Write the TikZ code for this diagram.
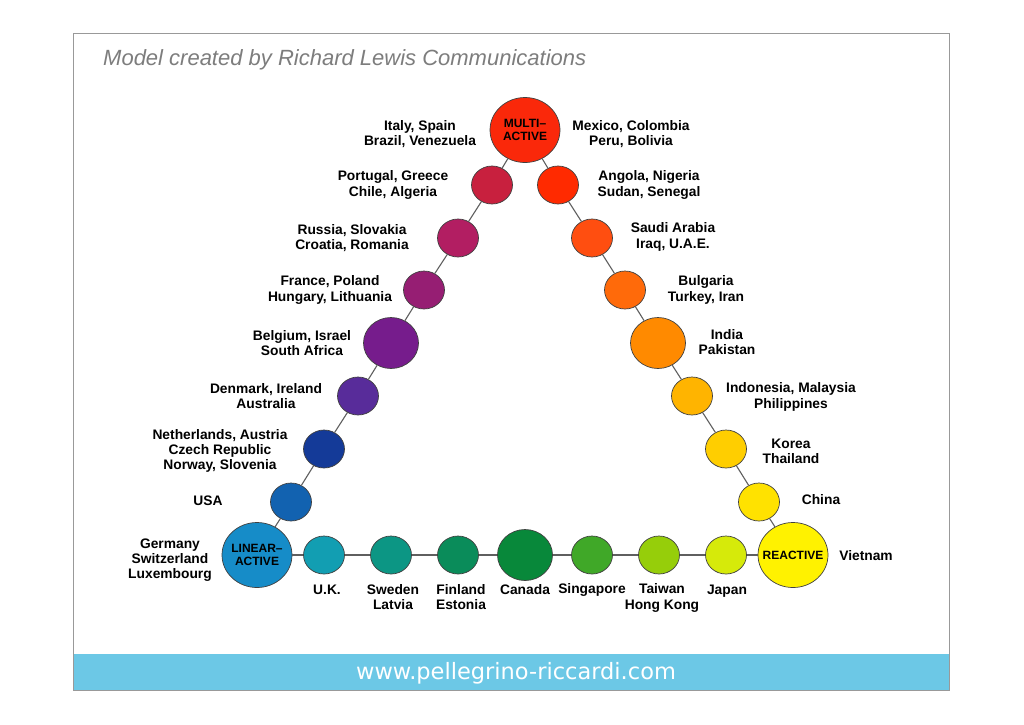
\documentclass[tikz,border=0pt]{standalone}
\usepackage{fontspec}
\setmainfont{Liberation Sans}
\newfontfamily\dejavu{DejaVu Sans}
\usetikzlibrary{shapes.geometric}
\definecolor{bannerblue}{RGB}{108,200,230}
\definecolor{titlegray}{RGB}{125,125,125}
\definecolor{edgegray}{RGB}{95,95,95}
\definecolor{cMA}{RGB}{250,40,10}
\definecolor{cL1}{RGB}{200,32,62}
\definecolor{cL2}{RGB}{178,30,98}
\definecolor{cL3}{RGB}{150,30,115}
\definecolor{cL4}{RGB}{118,28,140}
\definecolor{cL5}{RGB}{88,44,154}
\definecolor{cL6}{RGB}{20,58,152}
\definecolor{cL7}{RGB}{18,98,176}
\definecolor{cLA}{RGB}{22,140,200}
\definecolor{cB1}{RGB}{18,158,178}
\definecolor{cB2}{RGB}{12,150,132}
\definecolor{cB3}{RGB}{10,140,90}
\definecolor{cB4}{RGB}{8,136,58}
\definecolor{cB5}{RGB}{64,168,40}
\definecolor{cB6}{RGB}{150,206,10}
\definecolor{cB7}{RGB}{214,234,10}
\definecolor{cRE}{RGB}{255,242,0}
\definecolor{cR1}{RGB}{255,226,0}
\definecolor{cR2}{RGB}{255,206,0}
\definecolor{cR3}{RGB}{255,180,0}
\definecolor{cR4}{RGB}{255,138,0}
\definecolor{cR5}{RGB}{255,106,10}
\definecolor{cR6}{RGB}{255,78,16}
\definecolor{cR7}{RGB}{255,42,0}
\tikzset{
  ball/.style={ellipse, draw=black!75, line width=0.7pt, inner sep=0pt,
    minimum width=41pt, minimum height=38pt},
  bigball/.style={ball, minimum width=55pt, minimum height=51pt},
  hub/.style={ball, minimum width=70pt, minimum height=65pt},
  hubtext/.style={align=center, inner sep=0pt, font=\bfseries\fontsize{12}{13.5}\selectfont},
  lbl/.style={align=center, inner sep=0pt, font=\bfseries\fontsize{13.8}{15.2}\selectfont},
  link/.style={draw=edgegray, line width=1.1pt}
}
\begin{document}
\begin{tikzpicture}[x=1pt,y=-1pt]
\useasboundingbox[fill=white] (0,0) rectangle (1024,724);
\fill[bannerblue] (73,654) rectangle (949,690);
\draw[gray!80, line width=0.7pt] (73,33) rectangle (949,690);
\node[anchor=west, inner sep=0pt, text=titlegray, font=\itshape\fontsize{22}{26}\selectfont] (title) at (103,60) {Model created by Richard Lewis Communications};
\node[inner sep=0pt, text=white, font=\dejavu\fontsize{22.5}{26}\selectfont] (url) at (516,673) {www.pellegrino-riccardi.com};

% circles
\node[hub, fill=cMA] (ma) at (525,130) {};
\node[ball, fill=cL1] (l1) at (492,185) {};
\node[ball, fill=cL2] (l2) at (458,238) {};
\node[ball, fill=cL3] (l3) at (424,290) {};
\node[bigball, fill=cL4] (l4) at (391,343) {};
\node[ball, fill=cL5] (l5) at (358,396) {};
\node[ball, fill=cL6] (l6) at (324,449) {};
\node[ball, fill=cL7] (l7) at (291,502) {};
\node[hub, fill=cLA] (la) at (257,555) {};
\node[ball, fill=cB1] (b1) at (324,555) {};
\node[ball, fill=cB2] (b2) at (391,555) {};
\node[ball, fill=cB3] (b3) at (458,555) {};
\node[bigball, fill=cB4] (b4) at (525,555) {};
\node[ball, fill=cB5] (b5) at (592,555) {};
\node[ball, fill=cB6] (b6) at (659,555) {};
\node[ball, fill=cB7] (b7) at (726,555) {};
\node[hub, fill=cRE] (re) at (793,555) {};
\node[ball, fill=cR1] (r1) at (759,502) {};
\node[ball, fill=cR2] (r2) at (726,449) {};
\node[ball, fill=cR3] (r3) at (692,396) {};
\node[bigball, fill=cR4] (r4) at (658,343) {};
\node[ball, fill=cR5] (r5) at (625,290) {};
\node[ball, fill=cR6] (r6) at (592,238) {};
\node[ball, fill=cR7] (r7) at (558,185) {};

\node[hubtext] (maT) at (ma) {MULTI--\\ACTIVE};
\node[hubtext] (laT) at (la) {LINEAR--\\ACTIVE};
\node[hubtext] (reT) at (re) {REACTIVE};

% links
\foreach \a/\b in {ma/l1,l1/l2,l2/l3,l3/l4,l4/l5,l5/l6,l6/l7,l7/la,
  la/b1,b1/b2,b2/b3,b3/b4,b4/b5,b5/b6,b6/b7,b7/re,
  re/r1,r1/r2,r2/r3,r3/r4,r4/r5,r5/r6,r6/r7,r7/ma}
  \draw[link] (\a) -- (\b);

% labels
\node[lbl] (tItaly) at (420,134) {Italy, Spain\\Brazil, Venezuela};
\node[lbl] (tMexico) at (631,134) {Mexico, Colombia\\Peru, Bolivia};
\node[lbl] (tPortugal) at (393,185) {Portugal, Greece\\Chile, Algeria};
\node[lbl] (tAngola) at (649,185) {Angola, Nigeria\\Sudan, Senegal};
\node[lbl] (tRussia) at (352,238) {Russia, Slovakia\\Croatia, Romania};
\node[lbl] (tSaudi) at (673,237) {Saudi Arabia\\Iraq, U.A.E.};
\node[lbl] (tFrance) at (330,290) {France, Poland\\Hungary, Lithuania};
\node[lbl] (tBulgaria) at (706,290) {Bulgaria\\Turkey, Iran};
\node[lbl] (tBelgium) at (302,343) {Belgium, Israel\\South Africa};
\node[lbl] (tIndia) at (727,342) {India\\Pakistan};
\node[lbl] (tDenmark) at (266,396) {Denmark, Ireland\\Australia};
\node[lbl] (tIndonesia) at (791,397) {Indonesia, Malaysia\\Philippines};
\node[lbl] (tNether) at (220,451) {Netherlands, Austria\\Czech Republic\\Norway, Slovenia};
\node[lbl] (tKorea) at (791,451) {Korea\\Thailand};
\node[lbl] (tUSA) at (208,501) {USA};
\node[lbl] (tChina) at (821,500) {China};
\node[lbl] (tGermany) at (170,560) {Germany\\Switzerland\\Luxembourg};
\node[lbl] (tVietnam) at (866,556) {Vietnam};
\node[lbl] (tUK) at (327,590) {U.K.};
\node[lbl] (tSweden) at (393,597) {Sweden\\Latvia};
\node[lbl] (tFinland) at (461,597) {Finland\\Estonia};
\node[lbl] (tCanada) at (525,590) {Canada};
\node[lbl] (tSingapore) at (592,590) {Singapore};
\node[lbl] (tTaiwan) at (662,598) {Taiwan\\Hong Kong};
\node[lbl] (tJapan) at (727,591) {Japan};
\end{tikzpicture}
\end{document}
